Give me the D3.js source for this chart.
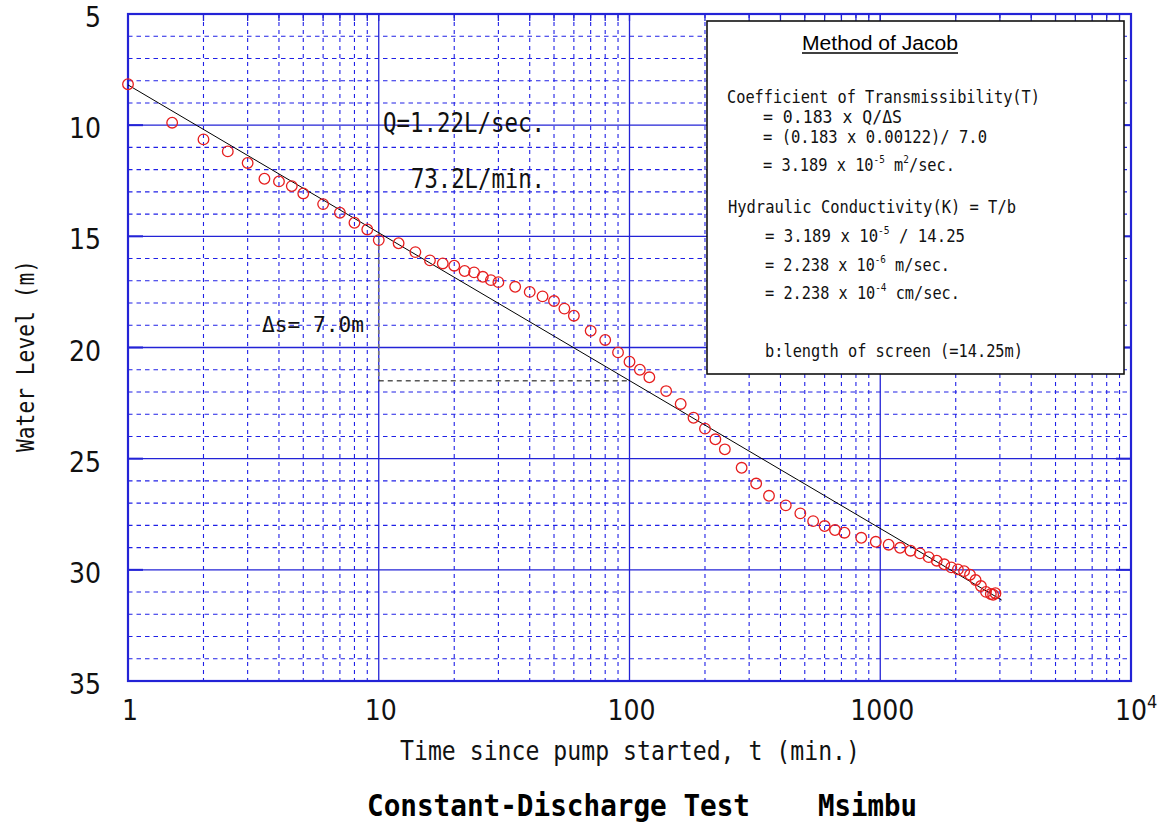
<!DOCTYPE html>
<html><head><meta charset="utf-8">
<script src="https://cdn.jsdelivr.net/npm/d3@7"></script>
<style>body{margin:0;background:#fff;}svg{display:block;}</style>
</head><body>
<svg id="c" width="1158" height="828"></svg>
<script>
// ---- data ----
const times = [1,1.5,2,2.5,3,3.5,4,4.5,5,6,7,8,9,10,12,14,16,18,20,22,24,26,28,30,35,40,45,50,55,60,70,80,90,100,110,120,140,160,180,200,220,240,280,320,360,420,480,540,600,660,720,840,960,1080,1200,1320,1440,1560,1680,1800,1920,2040,2160,2280,2400,2520,2640,2760,2820,2880];
const levels = [8.16,9.89,10.64,11.18,11.70,12.41,12.53,12.74,13.07,13.55,13.94,14.39,14.69,15.17,15.31,15.71,16.08,16.22,16.32,16.56,16.62,16.82,16.97,17.06,17.27,17.50,17.70,17.91,18.25,18.57,19.25,19.66,20.22,20.64,21.0,21.34,21.96,22.54,23.16,23.65,24.13,24.58,25.41,26.12,26.67,27.10,27.46,27.81,28.03,28.21,28.33,28.56,28.74,28.87,29.01,29.14,29.26,29.43,29.59,29.75,29.89,29.98,30.06,30.22,30.46,30.73,30.99,31.09,31.12,31.05];
const fitT = [1, 3050];
const fitLevel = [8.19, 31.36];
const deltaT = [10, 100];
const deltaLevel = [14.8, 21.5];
const xTickValues = [1, 10, 100, 1000, 10000];
const xTickLabels = ["1", "10", "100", "1000", "10|4"];
const yTickValues = [5, 10, 15, 20, 25, 30, 35];
const yDomain = [5, 35];
const xDomain = [1, 10000];

// ---- layout ----
const L = 128, R = 1131, T = 14, B = 681;
const svg = d3.select("#c");
const x = d3.scaleLog().domain(xDomain).range([L, R]);
const y = d3.scaleLinear().domain(yDomain).range([T, B]);
const blue = "#2323d6", dashBlue = "#2020e6";
const narrow = "'Liberation Sans Narrow','Arial Narrow','DejaVu Sans Condensed',sans-serif";
const mono = "'DejaVu Sans Mono','Liberation Mono',monospace";

const g = svg.append("g");
// minor vertical grid
const minorX = [];
for (let d = 1; d < 10000; d *= 10) for (let k = 2; k <= 9; k++) minorX.push(d * k);
const majorX = [10, 100, 1000];
g.selectAll(".mvx").data(minorX).join("line")
  .attr("x1", d => x(d)).attr("x2", d => x(d)).attr("y1", T).attr("y2", B)
  .attr("stroke", dashBlue).attr("stroke-width", 1.1).attr("stroke-dasharray", "4,4");
// minor horizontal grid
const minorY = d3.range(6, 35).filter(v => v % 5 !== 0);
g.selectAll(".mhy").data(minorY).join("line")
  .attr("x1", L).attr("x2", R).attr("y1", d => y(d)).attr("y2", d => y(d))
  .attr("stroke", dashBlue).attr("stroke-width", 1.1).attr("stroke-dasharray", "4.5,4");
// major grid
g.selectAll(".Mvx").data(majorX).join("line")
  .attr("x1", d => x(d)).attr("x2", d => x(d)).attr("y1", T).attr("y2", B)
  .attr("stroke", blue).attr("stroke-width", 1.3);
g.selectAll(".Mhy").data([10, 15, 20, 25, 30]).join("line")
  .attr("x1", L).attr("x2", R).attr("y1", d => y(d)).attr("y2", d => y(d))
  .attr("stroke", blue).attr("stroke-width", 1.3);
// inward ticks
g.selectAll(".tkl").data(yTickValues).join("line")
  .attr("x1", L).attr("x2", L + 15).attr("y1", d => y(d)).attr("y2", d => y(d))
  .attr("stroke", blue).attr("stroke-width", 2);
g.selectAll(".tkr").data(yTickValues).join("line")
  .attr("x1", R - 15).attr("x2", R).attr("y1", d => y(d)).attr("y2", d => y(d))
  .attr("stroke", blue).attr("stroke-width", 2);
g.selectAll(".tkt").data(minorX.concat(majorX)).join("line")
  .attr("x1", d => x(d)).attr("x2", d => x(d)).attr("y1", T).attr("y2", T + 7)
  .attr("stroke", blue).attr("stroke-width", 1.3);
// frame
g.append("rect").attr("x", L).attr("y", T).attr("width", R - L).attr("height", B - T)
  .attr("fill", "none").attr("stroke", blue).attr("stroke-width", 2.2);

// delta-s construction
g.append("line").attr("x1", x(deltaT[0])).attr("x2", x(deltaT[0]))
  .attr("y1", y(deltaLevel[0])).attr("y2", y(deltaLevel[1]))
  .attr("stroke", "#777").attr("stroke-width", 1.6).attr("stroke-dasharray", "4,3");
g.append("line").attr("x1", x(deltaT[0])).attr("x2", x(deltaT[1]))
  .attr("y1", y(deltaLevel[1])).attr("y2", y(deltaLevel[1]))
  .attr("stroke", "#000").attr("stroke-width", 1).attr("stroke-dasharray", "5,4");

// fitted line
g.append("line").attr("x1", x(fitT[0])).attr("x2", x(fitT[1]))
  .attr("y1", y(fitLevel[0])).attr("y2", y(fitLevel[1]))
  .attr("stroke", "#000").attr("stroke-width", 1);

// data points
g.selectAll(".pt").data(times.map((t, i) => [t, levels[i]])).join("circle")
  .attr("cx", d => x(d[0])).attr("cy", d => y(d[1])).attr("r", 5.3)
  .attr("fill", "none").attr("stroke", "#e61e1e").attr("stroke-width", 1.3);

// legend box
const lg = svg.append("g");
lg.append("rect").attr("x", 707).attr("y", 21).attr("width", 417).attr("height", 353)
  .attr("fill", "#fff").attr("stroke", "#111").attr("stroke-width", 1.6);
lg.append("text").attr("x", 802).attr("y", 50).attr("font-family", "'Liberation Sans',Arial,sans-serif")
  .attr("font-size", 20).attr("textLength", 156).attr("lengthAdjust", "spacingAndGlyphs").text("Method of Jacob");
lg.append("line").attr("x1", 802).attr("x2", 958).attr("y1", 53).attr("y2", 53).attr("stroke", "#000").attr("stroke-width", 1.3);

const legendLines = [
  {x: 727, y: 103, w: 313, parts: [["Coefficient of Transmissibility(T)"]]},
  {x: 763, y: 123, w: 139, parts: [["= 0.183 x Q/ΔS"]]},
  {x: 763, y: 143, w: 224, parts: [["= (0.183 x 0.00122)/ 7.0"]]},
  {x: 763, y: 171, w: 192, parts: [["= 3.189 x 10"], ["-5", "sup"], [" m"], ["2", "sup"], ["/sec."]]},
  {x: 728, y: 213, w: 288, parts: [["Hydraulic Conductivity(K) = T/b"]]},
  {x: 765, y: 242, w: 200, parts: [["= 3.189 x 10"], ["-5", "sup"], [" / 14.25"]]},
  {x: 765, y: 271, w: 185, parts: [["= 2.238 x 10"], ["-6", "sup"], [" m/sec."]]},
  {x: 765, y: 299, w: 195, parts: [["= 2.238 x 10"], ["-4", "sup"], [" cm/sec."]]},
  {x: 765, y: 357, w: 258, parts: [["b:length of screen (=14.25m)"]]}
];
legendLines.forEach(l => {
  const t = lg.append("text").attr("x", l.x).attr("y", l.y).attr("font-family", mono)
    .attr("font-size", 18).attr("textLength", l.w).attr("lengthAdjust", "spacingAndGlyphs").attr("fill", "#111");
  let raised = false;
  l.parts.forEach(p => {
    if (p[1] === "sup") {
      t.append("tspan").attr("dy", raised ? 0 : -8).attr("font-size", 11).text(p[0]);
      raised = true;
    } else {
      t.append("tspan").attr("dy", raised ? 8 : 0).text(p[0]);
      raised = false;
    }
  });
});

// annotations
const ann = svg.append("g").attr("font-family", mono).attr("fill", "#111");
ann.append("text").attr("x", 383).attr("y", 132).attr("font-size", 26).attr("textLength", 162)
  .attr("lengthAdjust", "spacingAndGlyphs").text("Q=1.22L/sec.");
ann.append("text").attr("x", 411).attr("y", 188).attr("font-size", 26).attr("textLength", 134)
  .attr("lengthAdjust", "spacingAndGlyphs").text("73.2L/min.");
ann.append("text").attr("x", 262).attr("y", 332).attr("font-size", 22).attr("textLength", 102)
  .attr("lengthAdjust", "spacingAndGlyphs").text("Δs= 7.0m");

// tick labels
const ay = svg.append("g").attr("font-family", narrow).attr("font-size", 28).attr("fill", "#111");
ay.selectAll("text").data(yTickValues).join("text")
  .attr("x", 101).attr("y", d => y(d) + 13).attr("text-anchor", "end").text(d => d);
const ax = svg.append("g").attr("font-family", narrow).attr("font-size", 28).attr("fill", "#111");
xTickValues.forEach((v, i) => {
  const lab = xTickLabels[i];
  if (lab.includes("|")) {
    const [b, e] = lab.split("|");
    const t = ax.append("text").attr("x", x(v) - 16).attr("y", 720).attr("text-anchor", "start");
    t.append("tspan").text(b);
    t.append("tspan").attr("dy", -12).attr("font-size", 18).text(e);
  } else {
    ax.append("text").attr("x", x(v) + 2).attr("y", 720).attr("text-anchor", "middle").text(lab);
  }
});

// axis titles
svg.append("text").attr("transform", "translate(34,356) rotate(-90)").attr("text-anchor", "middle")
  .attr("font-family", mono).attr("font-size", 24).attr("textLength", 192).attr("lengthAdjust", "spacingAndGlyphs")
  .attr("fill", "#111").text("Water Level (m)");
svg.append("text").attr("x", 400).attr("y", 760)
  .attr("font-family", mono).attr("font-size", 27).attr("textLength", 460).attr("lengthAdjust", "spacingAndGlyphs")
  .attr("fill", "#111").text("Time since pump started, t (min.)");
svg.append("text").attr("x", 367).attr("y", 816)
  .attr("font-family", mono).attr("font-weight", "bold").attr("font-size", 31).attr("textLength", 383).attr("lengthAdjust", "spacingAndGlyphs")
  .attr("fill", "#000").text("Constant-Discharge Test");
svg.append("text").attr("x", 818).attr("y", 816)
  .attr("font-family", mono).attr("font-weight", "bold").attr("font-size", 31).attr("textLength", 99).attr("lengthAdjust", "spacingAndGlyphs")
  .attr("fill", "#000").text("Msimbu");
</script>
</body></html>
